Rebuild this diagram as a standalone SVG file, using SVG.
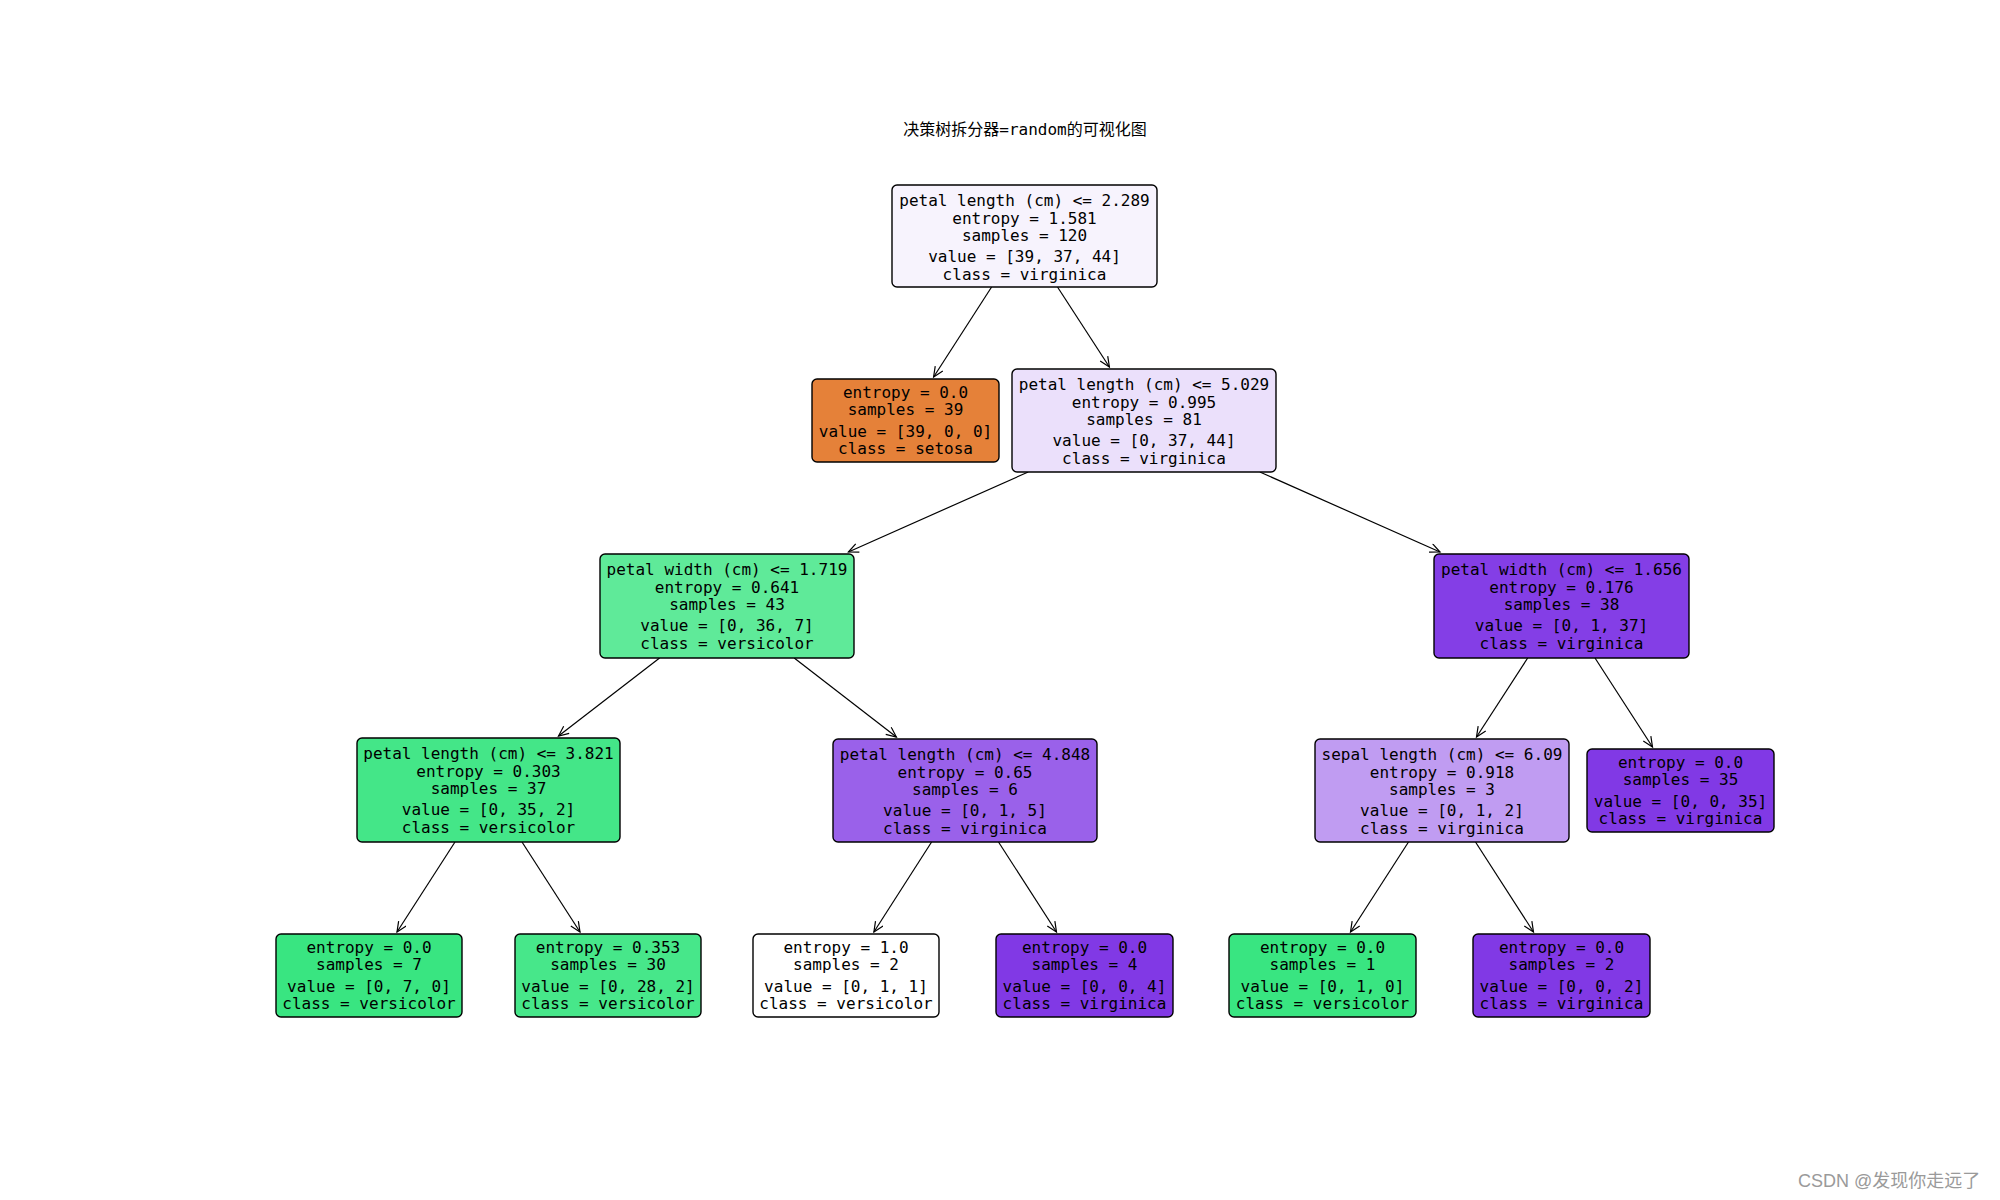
<svg xmlns="http://www.w3.org/2000/svg" width="2000" height="1200" viewBox="0 0 2000 1200">
<style>
.bg{fill:#ffffff}
.box{stroke:#000;stroke-width:1.4}
.t{font-family:"DejaVu Sans Mono","Liberation Mono","Noto Sans CJK SC",monospace;font-size:16px;fill:#000;text-anchor:middle}
.title{font-family:"DejaVu Sans Mono","Noto Sans CJK SC",monospace;font-size:16px;fill:#000;text-anchor:middle}
.wm{font-family:"Liberation Sans","Noto Sans CJK SC",sans-serif;font-size:18px;fill:#9a9a9a}
.edge{stroke:#000;stroke-width:1.2;fill:none}
</style>
<defs>
<marker id="arr" markerUnits="userSpaceOnUse" markerWidth="14" markerHeight="12" refX="11" refY="5" orient="auto">
<path d="M1,0.5 L11,5 L1,9.5" fill="none" stroke="#000" stroke-width="1.2"/>
</marker>
</defs>
<rect class="bg" x="0" y="0" width="2000" height="1200"/>
<text class="title" x="1025" y="135">决策树拆分器=random的可视化图</text>

<g id="edges">
<line class="edge" x1="991.6" y1="287" x2="933.6" y2="377" marker-end="url(#arr)"/>
<line class="edge" x1="1057.5" y1="287" x2="1109.4" y2="367" marker-end="url(#arr)"/>
<line class="edge" x1="1028.2" y1="472" x2="848.4" y2="552" marker-end="url(#arr)"/>
<line class="edge" x1="1259.9" y1="472" x2="1440" y2="552" marker-end="url(#arr)"/>
<line class="edge" x1="659.6" y1="658" x2="558.5" y2="736" marker-end="url(#arr)"/>
<line class="edge" x1="794.2" y1="658" x2="896.4" y2="737" marker-end="url(#arr)"/>
<line class="edge" x1="1527.7" y1="658" x2="1476.5" y2="737" marker-end="url(#arr)"/>
<line class="edge" x1="1595" y1="658" x2="1652.5" y2="747" marker-end="url(#arr)"/>
<line class="edge" x1="455" y1="842" x2="397" y2="932" marker-end="url(#arr)"/>
<line class="edge" x1="522" y1="842" x2="580" y2="932" marker-end="url(#arr)"/>
<line class="edge" x1="931.6" y1="842" x2="873.9" y2="932" marker-end="url(#arr)"/>
<line class="edge" x1="998.5" y1="842" x2="1056.5" y2="932" marker-end="url(#arr)"/>
<line class="edge" x1="1408.5" y1="842" x2="1350.5" y2="932" marker-end="url(#arr)"/>
<line class="edge" x1="1475.5" y1="842" x2="1533.5" y2="932" marker-end="url(#arr)"/>
</g>

<g id="node0">
<rect class="box" x="892" y="185" width="265" height="102" rx="5" fill="#f7f3fd"/>
<text class="t" x="1024.5" y="206">petal length (cm) &lt;= 2.289</text>
<text class="t" x="1024.5" y="223.5">entropy = 1.581</text>
<text class="t" x="1024.5" y="241">samples = 120</text>
<text class="t" x="1024.5" y="262">value = [39, 37, 44]</text>
<text class="t" x="1024.5" y="280">class = virginica</text>
</g>

<g id="node1">
<rect class="box" x="812" y="379" width="187" height="83" rx="5" fill="#e58139"/>
<text class="t" x="905.5" y="397.5">entropy = 0.0</text>
<text class="t" x="905.5" y="415">samples = 39</text>
<text class="t" x="905.5" y="437">value = [39, 0, 0]</text>
<text class="t" x="905.5" y="454">class = setosa</text>
</g>

<g id="node2">
<rect class="box" x="1012" y="369" width="264" height="103" rx="5" fill="#ebe0fb"/>
<text class="t" x="1144" y="390">petal length (cm) &lt;= 5.029</text>
<text class="t" x="1144" y="407.5">entropy = 0.995</text>
<text class="t" x="1144" y="425">samples = 81</text>
<text class="t" x="1144" y="446">value = [0, 37, 44]</text>
<text class="t" x="1144" y="464">class = virginica</text>
</g>

<g id="node3">
<rect class="box" x="600" y="554" width="254" height="104" rx="5" fill="#5fea99"/>
<text class="t" x="727" y="575">petal width (cm) &lt;= 1.719</text>
<text class="t" x="727" y="592.5">entropy = 0.641</text>
<text class="t" x="727" y="610">samples = 43</text>
<text class="t" x="727" y="631">value = [0, 36, 7]</text>
<text class="t" x="727" y="649">class = versicolor</text>
</g>

<g id="node4">
<rect class="box" x="1434" y="554" width="255" height="104" rx="5" fill="#843ee6"/>
<text class="t" x="1561.5" y="575">petal width (cm) &lt;= 1.656</text>
<text class="t" x="1561.5" y="592.5">entropy = 0.176</text>
<text class="t" x="1561.5" y="610">samples = 38</text>
<text class="t" x="1561.5" y="631">value = [0, 1, 37]</text>
<text class="t" x="1561.5" y="649">class = virginica</text>
</g>

<g id="node5">
<rect class="box" x="357" y="738" width="263" height="104" rx="5" fill="#44e688"/>
<text class="t" x="488.5" y="759">petal length (cm) &lt;= 3.821</text>
<text class="t" x="488.5" y="776.5">entropy = 0.303</text>
<text class="t" x="488.5" y="794">samples = 37</text>
<text class="t" x="488.5" y="815">value = [0, 35, 2]</text>
<text class="t" x="488.5" y="833">class = versicolor</text>
</g>

<g id="node6">
<rect class="box" x="833" y="739" width="264" height="103" rx="5" fill="#9a61ea"/>
<text class="t" x="965" y="760">petal length (cm) &lt;= 4.848</text>
<text class="t" x="965" y="777.5">entropy = 0.65</text>
<text class="t" x="965" y="795">samples = 6</text>
<text class="t" x="965" y="816">value = [0, 1, 5]</text>
<text class="t" x="965" y="834">class = virginica</text>
</g>

<g id="node7">
<rect class="box" x="1315" y="739" width="254" height="103" rx="5" fill="#c09cf2"/>
<text class="t" x="1442" y="760">sepal length (cm) &lt;= 6.09</text>
<text class="t" x="1442" y="777.5">entropy = 0.918</text>
<text class="t" x="1442" y="795">samples = 3</text>
<text class="t" x="1442" y="816">value = [0, 1, 2]</text>
<text class="t" x="1442" y="834">class = virginica</text>
</g>

<g id="node8">
<rect class="box" x="1587" y="749" width="187" height="83" rx="5" fill="#8139e5"/>
<text class="t" x="1680.5" y="767.5">entropy = 0.0</text>
<text class="t" x="1680.5" y="785">samples = 35</text>
<text class="t" x="1680.5" y="807">value = [0, 0, 35]</text>
<text class="t" x="1680.5" y="824">class = virginica</text>
</g>

<g id="node9">
<rect class="box" x="276" y="934" width="186" height="83" rx="5" fill="#39e581"/>
<text class="t" x="369" y="952.5">entropy = 0.0</text>
<text class="t" x="369" y="970">samples = 7</text>
<text class="t" x="369" y="992">value = [0, 7, 0]</text>
<text class="t" x="369" y="1009">class = versicolor</text>
</g>

<g id="node10">
<rect class="box" x="515" y="934" width="186" height="83" rx="5" fill="#47e78a"/>
<text class="t" x="608" y="952.5">entropy = 0.353</text>
<text class="t" x="608" y="970">samples = 30</text>
<text class="t" x="608" y="992">value = [0, 28, 2]</text>
<text class="t" x="608" y="1009">class = versicolor</text>
</g>

<g id="node11">
<rect class="box" x="753" y="934" width="186" height="83" rx="5" fill="#ffffff"/>
<text class="t" x="846" y="952.5">entropy = 1.0</text>
<text class="t" x="846" y="970">samples = 2</text>
<text class="t" x="846" y="992">value = [0, 1, 1]</text>
<text class="t" x="846" y="1009">class = versicolor</text>
</g>

<g id="node12">
<rect class="box" x="996" y="934" width="177" height="83" rx="5" fill="#8139e5"/>
<text class="t" x="1084.5" y="952.5">entropy = 0.0</text>
<text class="t" x="1084.5" y="970">samples = 4</text>
<text class="t" x="1084.5" y="992">value = [0, 0, 4]</text>
<text class="t" x="1084.5" y="1009">class = virginica</text>
</g>

<g id="node13">
<rect class="box" x="1229" y="934" width="187" height="83" rx="5" fill="#39e581"/>
<text class="t" x="1322.5" y="952.5">entropy = 0.0</text>
<text class="t" x="1322.5" y="970">samples = 1</text>
<text class="t" x="1322.5" y="992">value = [0, 1, 0]</text>
<text class="t" x="1322.5" y="1009">class = versicolor</text>
</g>

<g id="node14">
<rect class="box" x="1473" y="934" width="177" height="83" rx="5" fill="#8139e5"/>
<text class="t" x="1561.5" y="952.5">entropy = 0.0</text>
<text class="t" x="1561.5" y="970">samples = 2</text>
<text class="t" x="1561.5" y="992">value = [0, 0, 2]</text>
<text class="t" x="1561.5" y="1009">class = virginica</text>
</g>

<text class="wm" x="1798" y="1187">CSDN @发现你走远了</text>
</svg>
